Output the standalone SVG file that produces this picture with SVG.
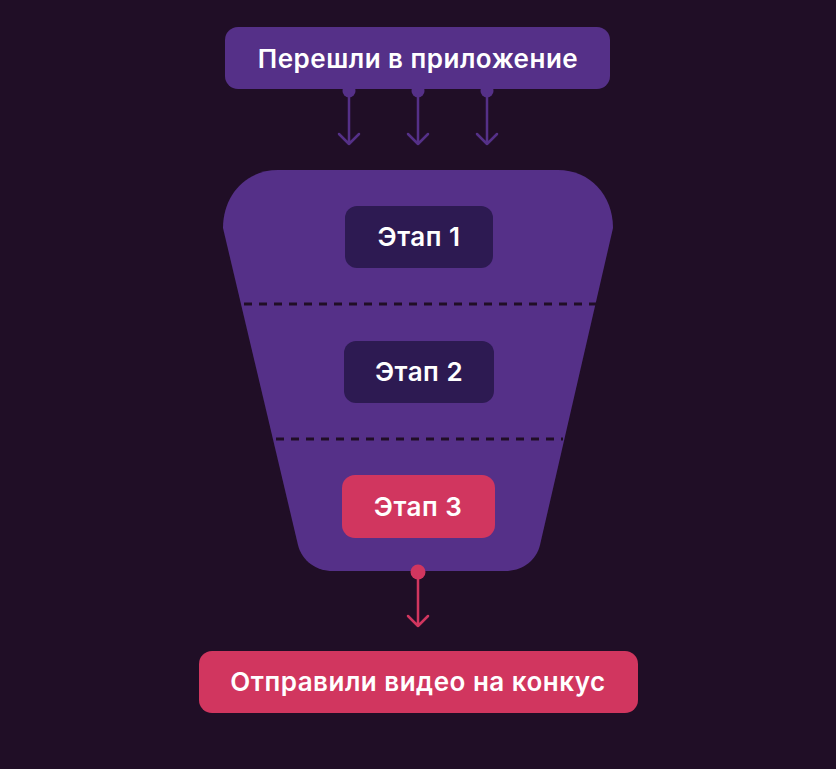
<svg xmlns="http://www.w3.org/2000/svg" width="836" height="769" viewBox="0 0 836 769">
<style>
.lbl{font-family:Inter,"Noto Sans","Liberation Sans",sans-serif;font-weight:600;font-size:26px;letter-spacing:0.5px;fill:#ffffff;text-anchor:middle}
.pur{fill:#553088}
.dark{fill:#2d1a52}
.pink{fill:#d1365f}
.dash{stroke:#200e26;stroke-width:3;stroke-dasharray:8 7;fill:none}
.cp{stroke:#553088;stroke-width:2.5;fill:none;stroke-linecap:round;stroke-linejoin:round}
.ck{stroke:#d1365f;stroke-width:2.5;fill:none;stroke-linecap:round;stroke-linejoin:round}
</style>
<rect width="836" height="769" fill="#200e26"/>
<g id="funnel">
<path class="pur" d="M278 170 L558 170 C590 170 613 195 613 228 L540 545 C536 561 522 571 505 571 L333 571 C316 571 302 561 298 545 L223 228 C223 195 246 170 278 170 Z"/>
<line class="dash" x1="244" y1="304" x2="596" y2="304"/>
<line class="dash" x1="276" y1="439" x2="563" y2="439"/>
</g>
<g id="connectors">
<circle cx="349" cy="91" r="6.5" fill="#553088"/>
<circle cx="418" cy="91" r="6.5" fill="#553088"/>
<circle cx="487" cy="91" r="6.5" fill="#553088"/>
<path class="cp" d="M349 91 V144 M339 134 L349 144 L359 134"/>
<path class="cp" d="M418 91 V144 M408 134 L418 144 L428 134"/>
<path class="cp" d="M487 91 V144 M477 134 L487 144 L497 134"/>
<circle cx="418" cy="572" r="7.5" fill="#d1365f"/>
<path class="ck" d="M418 572 V626 M408 616 L418 626 L428 616"/>
</g>
<g id="n-top">
<rect class="pur" x="225" y="27" width="385" height="62" rx="13"/>
<text class="lbl" x="418" y="68">Перешли в приложение</text>
</g>
<g id="n-stage1">
<rect class="dark" x="345" y="206" width="148" height="62" rx="12"/>
<text class="lbl" x="419" y="246">Этап 1</text>
</g>
<g id="n-stage2">
<rect class="dark" x="344" y="341" width="150" height="62" rx="12"/>
<text class="lbl" x="419" y="381">Этап 2</text>
</g>
<g id="n-stage3">
<rect class="pink" x="342" y="475" width="153" height="63" rx="13"/>
<text class="lbl" x="418" y="516">Этап 3</text>
</g>
<g id="n-bottom">
<rect class="pink" x="199" y="651" width="439" height="62" rx="13"/>
<text class="lbl" x="418" y="691">Отправили видео на конкус</text>
</g>
</svg>
